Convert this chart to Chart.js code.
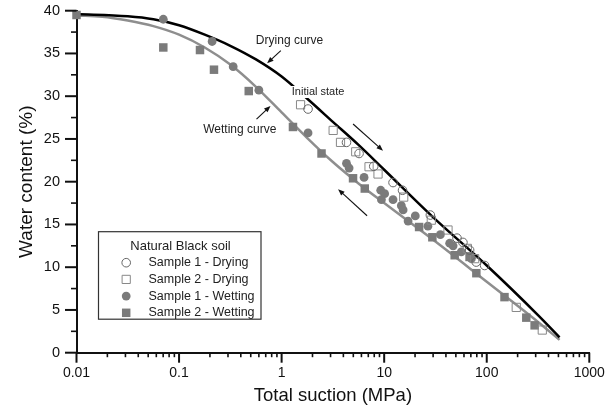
<!DOCTYPE html>
<html><head><meta charset="utf-8">
<script src="https://cdn.jsdelivr.net/npm/chart.js@4.4.1/dist/chart.umd.min.js"></script>
<style>html,body{margin:0;padding:0;background:#fff}#wrap{width:614px;height:409px}</style>
</head><body><div id="wrap"><canvas id="c" width="614" height="409"></canvas></div>
<script>
// ---------- data (suction in MPa, water content in %) ----------
const s1DryX = [1.81, 4.29, 5.69, 7.91, 12.2, 15.1, 28.2, 51.3, 58.6, 68.1, 79, 95.4];
const s1DryY = [28.5, 24.6, 23.3, 21.8, 19.9, 19.0, 16.1, 13.4, 12.9, 12.0, 10.6, 10.2];

const s2DryX = [1.53, 3.18, 3.75, 5.28, 7.12, 8.71, 15.5, 28.8, 41.9, 64.7, 76.2, 194, 348];
const s2DryY = [29.0, 26.0, 24.6, 23.5, 21.75, 20.9, 18.2, 15.5, 14.35, 12.2, 11.0, 5.3, 2.65];

const s1WetX = [0.0702, 0.210, 0.337, 0.600, 1.81, 4.29, 4.55, 6.37, 9.25, 10.1, 9.4, 12.2, 14.7, 15.3, 17.1, 20.1, 26.7, 35.3, 43.5, 47, 56.5, 70.8];
const s1WetY = [39.0, 36.4, 33.45, 30.7, 25.7, 22.15, 21.6, 20.5, 19.0, 18.6, 17.9, 17.9, 17.2, 16.7, 15.4, 16.0, 14.8, 13.8, 12.8, 12.5, 11.8, 11.0];

const s2WetX = [0.01, 0.0702, 0.160, 0.219, 0.478, 1.29, 2.45, 4.97, 6.47, 21.9, 29.5, 48.7, 68, 79.2, 149, 243, 293];
const s2WetY = [39.5, 35.7, 35.4, 33.1, 30.6, 26.4, 23.3, 20.4, 19.2, 14.7, 13.5, 11.4, 11.2, 9.3, 6.5, 4.1, 3.2];

const dryCurveX = [0.01, 0.0316, 0.0562, 0.1, 0.178, 0.316, 0.562, 1, 1.78, 3.16, 5.62, 10, 31.6, 100, 316, 513];
const dryCurveY = [39.6, 39.35, 39.0, 38.3, 37.2, 35.9, 34.3, 32.3, 29.7, 27.0, 24.3, 21.4, 15.6, 10.2, 4.4, 1.8];

const wetCurveX = [0.01, 0.0178, 0.0316, 0.0562, 0.1, 0.178, 0.316, 0.562, 1, 1.78, 3.16, 5.62, 10, 31.6, 100, 316, 513];
const wetCurveY = [39.45, 39.3, 38.85, 38.2, 37.2, 35.7, 33.7, 31.1, 28.1, 25.1, 22.3, 19.8, 17.5, 13.0, 8.3, 3.6, 1.5];

const seriesLabels = ['Sample 1 - Drying', 'Sample 2 - Drying', 'Sample 1 - Wetting', 'Sample 2 - Wetting'];
const legendTitle = 'Natural Black soil';

const xTickValues = [0.01, 0.1, 1, 10, 100, 1000];
const xTickLabels = ['0.01', '0.1', '1', '10', '100', '1000'];
const yTickValues = [0, 5, 10, 15, 20, 25, 30, 35, 40];
const yTickLabels = ['0', '5', '10', '15', '20', '25', '30', '35', '40'];

const xTitle = 'Total suction (MPa)';
const yTitle = 'Water content (%)';

// annotation texts anchored in data units
const notes = [
  {text: 'Drying curve', x: 0.561, y: 36.46, size: 12, box: false},
  {text: 'Initial state', x: 1.257, y: 30.49, size: 11, box: true},
  {text: 'Wetting curve', x: 0.1719, y: 26.05, size: 12, box: false}
];
// arrows: [x1, y1, x2(head), y2(head)] in data units
const arrows = [
  [0.982, 35.32, 0.722, 33.85],
  [0.5693, 27.33, 0.7796, 28.85],
  [4.974, 26.75, 9.745, 23.63],
  [6.81, 16.02, 3.553, 19.11]
];

// ---------- chart ----------
const FONT = "'Liberation Sans', Arial, Helvetica, sans-serif";
Chart.defaults.font.family = FONT;
Chart.defaults.color = '#111';

const pts = (xs, ys) => xs.map((v, i) => ({x: v, y: ys[i]}));
const GRAY = '#7b7b7b';

const datasets = [
  {label: seriesLabels[0], data: pts(s1DryX, s1DryY), pointStyle: 'circle', pointRadius: 4.3,
   pointBackgroundColor: 'rgba(255,255,255,0)', pointBorderColor: '#666', pointBorderWidth: 1, showLine: false, clip: false},
  {label: seriesLabels[1], data: pts(s2DryX, s2DryY), pointStyle: 'rect', pointRadius: 5.8,
   pointBackgroundColor: 'rgba(255,255,255,0)', pointBorderColor: '#888', pointBorderWidth: 1, showLine: false, clip: false},
  {label: seriesLabels[2], data: pts(s1WetX, s1WetY), pointStyle: 'circle', pointRadius: 4.4,
   pointBackgroundColor: GRAY, pointBorderColor: GRAY, pointBorderWidth: 0, showLine: false, clip: false},
  {label: seriesLabels[3], data: pts(s2WetX, s2WetY), pointStyle: 'rect', pointRadius: 6,
   pointBackgroundColor: GRAY, pointBorderColor: GRAY, pointBorderWidth: 0, showLine: false, clip: false},
  {label: 'Drying curve', data: pts(dryCurveX, dryCurveY), showLine: true, pointRadius: 0,
   borderColor: '#000', borderWidth: 2.5, cubicInterpolationMode: 'monotone', fill: false, clip: false},
  {label: 'Wetting curve', data: pts(wetCurveX, wetCurveY), showLine: true, pointRadius: 0,
   borderColor: '#8e8e8e', borderWidth: 2.5, cubicInterpolationMode: 'monotone', fill: false, clip: false}
];

const tickMarks = {
  id: 'tickMarks',
  afterDraw(chart) {
    const {ctx, chartArea: {left, bottom}, scales: {x, y}} = chart;
    ctx.save();
    ctx.strokeStyle = '#111';
    ctx.lineCap = 'butt';
    for (let e = -2; e <= 2; e++) {
      for (let k = 1; k <= 9; k++) {
        const px = x.getPixelForValue(k * Math.pow(10, e));
        ctx.lineWidth = k === 1 ? 2 : 1.6;
        const len = k === 1 ? 10 : 4.5;
        ctx.beginPath(); ctx.moveTo(px, bottom); ctx.lineTo(px, bottom + len); ctx.stroke();
      }
    }
    const pxEnd = x.getPixelForValue(xTickValues[xTickValues.length - 1]);
    ctx.lineWidth = 2;
    ctx.beginPath(); ctx.moveTo(pxEnd, bottom); ctx.lineTo(pxEnd, bottom + 10); ctx.stroke();
    for (let i = 0; i < yTickValues.length; i++) {
      const py = y.getPixelForValue(yTickValues[i]);
      ctx.lineWidth = 2;
      ctx.beginPath(); ctx.moveTo(left - 11.5, py); ctx.lineTo(left, py); ctx.stroke();
      if (i < yTickValues.length - 1) {
        const pm = y.getPixelForValue((yTickValues[i] + yTickValues[i + 1]) / 2);
        ctx.lineWidth = 1.6;
        ctx.beginPath(); ctx.moveTo(left - 5.5, pm); ctx.lineTo(left, pm); ctx.stroke();
      }
    }
    ctx.restore();
  }
};

function drawArrow(ctx, x1, y1, x2, y2) {
  const a = Math.atan2(y2 - y1, x2 - x1);
  const hl = 6.5, hw = 2.6;
  ctx.beginPath(); ctx.moveTo(x1, y1); ctx.lineTo(x2 - Math.cos(a) * hl * 0.6, y2 - Math.sin(a) * hl * 0.6); ctx.stroke();
  ctx.beginPath();
  ctx.moveTo(x2, y2);
  ctx.lineTo(x2 - Math.cos(a) * hl + Math.sin(a) * hw, y2 - Math.sin(a) * hl - Math.cos(a) * hw);
  ctx.lineTo(x2 - Math.cos(a) * hl - Math.sin(a) * hw, y2 - Math.sin(a) * hl + Math.cos(a) * hw);
  ctx.closePath(); ctx.fill();
}

const annotations = {
  id: 'annotations',
  afterDatasetsDraw(chart) {
    const {ctx, scales: {x, y}} = chart;
    ctx.save();
    ctx.textBaseline = 'middle';
    ctx.textAlign = 'left';
    for (const n of notes) {
      ctx.font = n.size + 'px ' + FONT;
      const px = x.getPixelForValue(n.x), py = y.getPixelForValue(n.y);
      if (n.box) {
        const w = ctx.measureText(n.text).width;
        ctx.fillStyle = '#fff';
        ctx.fillRect(px - 1, py - 6, w + 2, 12);
      }
      ctx.fillStyle = '#222';
      ctx.fillText(n.text, px, py);
    }
    ctx.strokeStyle = '#111'; ctx.fillStyle = '#111'; ctx.lineWidth = 1.1;
    for (const a of arrows) {
      drawArrow(ctx, x.getPixelForValue(a[0]), y.getPixelForValue(a[1]), x.getPixelForValue(a[2]), y.getPixelForValue(a[3]));
    }
    ctx.restore();
  }
};

const boxLegend = {
  id: 'boxLegend',
  afterDraw(chart) {
    const {ctx, chartArea: {left, bottom}} = chart;
    const bx = left + 22, by = bottom - 121, bw = 162.5, bh = 87.5;
    ctx.save();
    ctx.fillStyle = '#fff';
    ctx.fillRect(bx, by, bw, bh);
    ctx.strokeStyle = '#333'; ctx.lineWidth = 1.2;
    ctx.strokeRect(bx, by, bw, bh);
    ctx.fillStyle = '#222';
    ctx.textBaseline = 'middle';
    ctx.textAlign = 'center';
    ctx.font = '13px ' + FONT;
    ctx.fillText(legendTitle, bx + 82, by + 14.5);
    ctx.textAlign = 'left';
    ctx.font = '12.5px ' + FONT;
    for (let i = 0; i < 4; i++) {
      const ds = chart.data.datasets[i];
      const cy = by + 31 + i * 16.7;
      const cx = bx + 27.7;
      ctx.save();
      ctx.fillStyle = ds.pointBackgroundColor;
      ctx.strokeStyle = ds.pointBorderColor;
      ctx.lineWidth = ds.pointBorderWidth || 0;
      ctx.beginPath();
      if (ds.pointStyle === 'circle') ctx.arc(cx, cy, ds.pointRadius, 0, Math.PI * 2);
      else { const s = ds.pointRadius * Math.SQRT1_2; ctx.rect(cx - s, cy - s, 2 * s, 2 * s); }
      ctx.fill();
      if (ds.pointBorderWidth) ctx.stroke();
      ctx.restore();
      ctx.fillStyle = '#222';
      ctx.fillText(ds.label, bx + 50, cy);
    }
    ctx.restore();
  }
};

new Chart(document.getElementById('c'), {
  type: 'scatter',
  data: {datasets},
  options: {
    responsive: false,
    animation: false,
    events: [],
    layout: {padding: {left: 0, right: 24.7, top: 10.7, bottom: 0}},
    plugins: {legend: {display: false}, tooltip: {enabled: false}},
    scales: {
      x: {
        type: 'logarithmic', min: xTickValues[0], max: xTickValues[xTickValues.length - 1],
        grid: {display: false, drawTicks: false},
        border: {display: true, color: '#111', width: 2},
        ticks: {
          autoSkip: false, maxRotation: 0, padding: 12.2, color: '#111',
          font: {size: 14},
          callback: (v) => {
            const i = xTickValues.findIndex(t => Math.abs(t - v) / t < 1e-6);
            return i >= 0 ? xTickLabels[i] : '';
          }
        },
        title: {display: true, text: xTitle, font: {size: 18.5}, color: '#111', padding: {top: 0, bottom: 2}},
        afterFit: (s) => { s.height = 409 - 352.7; s.paddingLeft = 0; s.paddingRight = 0; }
      },
      y: {
        type: 'linear', min: yTickValues[0], max: yTickValues[yTickValues.length - 1],
        grid: {display: false, drawTicks: false},
        border: {display: true, color: '#111', width: 2},
        ticks: {
          stepSize: 5, padding: 16.5, color: '#111', font: {size: 14.5},
          callback: (v) => { const i = yTickValues.indexOf(v); return i >= 0 ? yTickLabels[i] : ''; }
        },
        title: {display: true, text: yTitle, font: {size: 19}, color: '#111', padding: {top: 15.3, bottom: 0}},
        afterFit: (s) => { s.width = 76.5; s.paddingTop = 0; s.paddingBottom = 0; }
      }
    }
  },
  plugins: [tickMarks, annotations, boxLegend]
});
</script></body></html>
